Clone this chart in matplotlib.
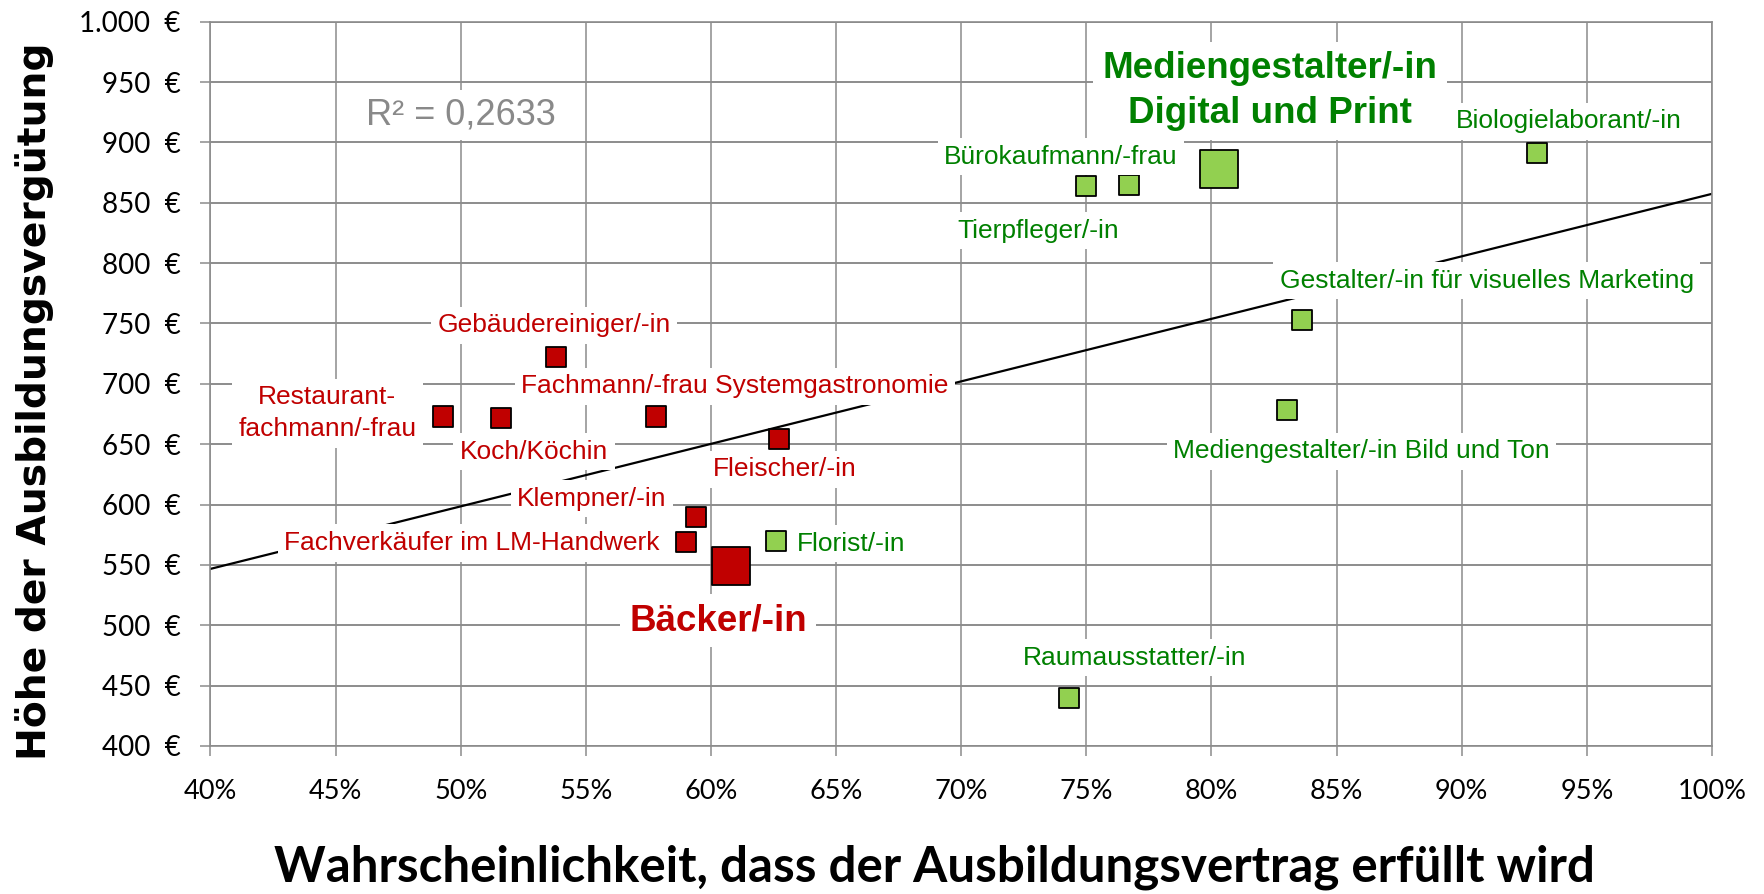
import numpy as np
import matplotlib
matplotlib.use('Agg')
from matplotlib import pyplot as plt
from matplotlib.ticker import FuncFormatter, MultipleLocator

### data

# Berufe mit niedriger Erfuellungsquote (rot)
red_names = ['Gebäudereiniger/-in', 'Restaurant-\nfachmann/-frau', 'Koch/Köchin',
             'Fachmann/-frau Systemgastronomie', 'Fleischer/-in', 'Klempner/-in',
             'Fachverkäufer im LM-Handwerk', 'Bäcker/-in']
red_quote = [0.538, 0.493, 0.516, 0.578, 0.627, 0.594, 0.590, 0.608]
red_lohn = [722, 673, 672, 673, 654, 590, 569, 549]

# Berufe mit hoher Erfuellungsquote (gruen)
green_names = ['Florist/-in', 'Tierpfleger/-in', 'Bürokaufmann/-frau',
               'Mediengestalter/-in\nDigital und Print', 'Biologielaborant/-in',
               'Gestalter/-in für visuelles Marketing', 'Mediengestalter/-in Bild und Ton',
               'Raumausstatter/-in']
green_quote = [0.626, 0.750, 0.767, 0.803, 0.930, 0.836, 0.830, 0.743]
green_lohn = [570, 864, 865, 878, 891, 753, 678, 440]

highlight = ['Bäcker/-in', 'Mediengestalter/-in\nDigital und Print']
r2_text = 'R² = 0,2633'

x_title = 'Wahrscheinlichkeit, dass der Ausbildungsvertrag erfüllt wird'
y_title = 'Höhe der Ausbildungsvergütung'

### label placement: offset in pixels from the marker (dx, dy up), alignment
# single line labels sit on their baseline, two line labels on their bottom edge
red_offsets = [(-2, 25, 'center'), (-116, -25, 'center'), (33, -41, 'center'),
               (79, 23, 'center'), (6, -37, 'center'), (-104, 11, 'center'),
               (-214, -8, 'center'), (-13, -64, 'center')]
green_offsets = [(21, -10, 'left'), (-48, -52, 'center'), (-68, 21, 'center'),
                 (51, 38, 'center'), (32, 25, 'center'), (185, 32, 'center'),
                 (75, -48, 'center'), (66, 33, 'center')]

RED = '#C00000'
RED_TXT = '#C00000'
GREEN = '#92D050'
GREEN_TXT = '#008000'
GRID = '#8c8c8c'
LABEL_FONT = ['Liberation Sans', 'DejaVu Sans']

plt.rcParams['font.family'] = ['Lato', 'DejaVu Sans']

fig = plt.figure(figsize=(17.64, 8.94), dpi=100)
ax = fig.add_axes([0.11933, 0.16555, 0.85119, 0.81018])

ax.set_xlim(0.40, 1.00)
ax.set_ylim(400, 1000)
ax.xaxis.set_major_locator(MultipleLocator(0.05))
ax.yaxis.set_major_locator(MultipleLocator(50))
ax.xaxis.set_major_formatter(FuncFormatter(lambda v, p: '{:.0f}%'.format(v * 100)))
ax.yaxis.set_major_formatter(FuncFormatter(lambda v, p: '{:,.0f}  €'.format(v).replace(',', '.')))

ax.set_axisbelow(True)
ax.grid(axis='y', color=GRID, lw=1.4)
ax.grid(axis='x', color=GRID, lw=1.1)
for sp in ax.spines.values():
	sp.set_color(GRID)
	sp.set_linewidth(1.2)
ax.tick_params(direction='out', length=7.5, width=1.1, color=GRID, labelsize=19.5)
ax.tick_params(axis='x', pad=16)
ax.tick_params(axis='y', pad=14, labelsize=20)

# linear trend over all professions
all_x = np.array(red_quote + green_quote)
all_y = np.array(red_lohn + green_lohn)
fit = np.polyfit(all_x, all_y, 1)
xs = np.array([0.40, 1.00])
ax.plot(xs, np.polyval(fit, xs), color='black', lw=1.6, zorder=2)

def drawGroup(names, quote, lohn, color, txt_color, offsets):
	sizes = [750 if n in highlight else 210 for n in names]
	ax.scatter(quote, lohn, s=sizes, marker='s', c=color, edgecolors='black',
	           linewidths=1.3, zorder=3)
	for i in range(len(names)):
		dx, dy, ha = offsets[i]
		big = names[i] in highlight
		two_lines = '\n' in names[i]
		ax.annotate(names[i], xy=(quote[i], lohn[i]), xytext=(dx, dy),
		            textcoords='offset pixels', ha=ha,
		            va='bottom' if two_lines else 'baseline',
		            multialignment='center', color=txt_color,
		            fontsize=26.5 if big else 19, fontweight='bold' if big else 'normal',
		            family=LABEL_FONT, linespacing=1.36 if big else 1.42, zorder=5,
		            bbox=dict(boxstyle='square,pad=0.25', fc='white', ec='none'))

drawGroup(red_names, red_quote, red_lohn, RED, RED_TXT, red_offsets)
drawGroup(green_names, green_quote, green_lohn, GREEN, GREEN_TXT, green_offsets)

ax.text(0.50, 915, r2_text, ha='center', va='baseline', fontsize=26, color='#898989',
        family=LABEL_FONT, zorder=5,
        bbox=dict(boxstyle='square,pad=0.2', fc='white', ec='none'))

fig.text(934 / 1764, 1 - 882 / 894, x_title, ha='center', va='baseline',
         fontsize=35.5, fontweight='bold', family=['Lato', 'DejaVu Sans'])
fig.text(35 / 1764, 1 - 401.5 / 894, y_title, ha='center', va='center', rotation=90,
         fontsize=28.3, fontweight='bold', family=['DejaVu Sans'])

fig.savefig('out.png', dpi=100)
